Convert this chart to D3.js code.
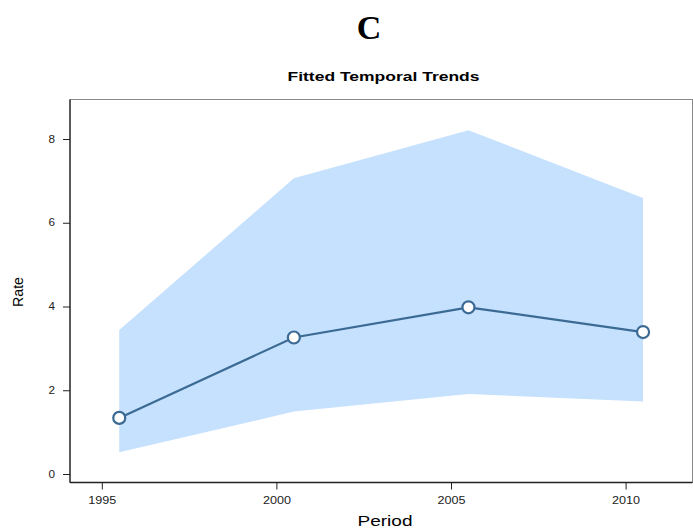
<!DOCTYPE html>
<html>
<head>
<meta charset="utf-8">
<script src="https://cdn.jsdelivr.net/npm/d3@7"></script>
<style>
  html, body { margin: 0; padding: 0; background: #fff; }
  svg { display: block; }
</style>
</head>
<body>
<svg id="chart" width="693" height="528"></svg>
<script>
// Fitted rate by period, with its interval band
const periods = [1995.5, 2000.5, 2005.5, 2010.5];
const rate    = [1.34, 3.26, 3.98, 3.39];
const lower   = [0.52, 1.49, 1.91, 1.73];
const upper   = [3.44, 7.06, 8.21, 6.59];
const xTicks  = [1995, 2000, 2005, 2010];
const yTicks  = [0, 2, 4, 6, 8];

const svg = d3.select("#chart");
const box = { left: 70, right: 692.5, top: 99.5, bottom: 482.5 };
const sans = "Liberation Sans, Arial, Helvetica, sans-serif";

const x = d3.scaleLinear().domain([1995, 2010]).range([101.8, 625.6]);
const y = d3.scaleLinear().domain([0, 8]).range([474, 139]);

const pts = periods.map((p, i) => ({ p, r: rate[i], lo: lower[i], hi: upper[i] }));

// panel letter and title (the text is set wide, as in a stretched figure)
svg.append("text")
  .attr("x", 369).attr("y", 39)
  .attr("text-anchor", "middle")
  .attr("font-family", "Liberation Serif, Times New Roman, serif")
  .attr("font-weight", "bold")
  .attr("font-size", 34)
  .text("C");

svg.append("text")
  .attr("x", 383.5).attr("y", 80.7)
  .attr("text-anchor", "middle")
  .attr("font-family", sans)
  .attr("font-weight", "bold")
  .attr("font-size", 13.5)
  .attr("textLength", 192)
  .attr("lengthAdjust", "spacingAndGlyphs")
  .text("Fitted Temporal Trends");

// interval band
svg.append("path")
  .datum(pts)
  .attr("fill", "#c6e1fd")
  .attr("d", d3.area().x(d => x(d.p)).y0(d => y(d.lo)).y1(d => y(d.hi)));

// plot frame
svg.append("rect")
  .attr("x", box.left).attr("y", box.top)
  .attr("width", box.right - box.left).attr("height", box.bottom - box.top)
  .attr("fill", "none").attr("stroke", "#8a8a8a").attr("stroke-width", 1);

// axes
const xAxis = d3.axisBottom(x).tickValues(xTicks).tickFormat(d3.format("d")).tickSize(7).tickPadding(7);
const yAxis = d3.axisLeft(y).tickValues(yTicks).tickSize(7).tickPadding(8);

const gx = svg.append("g").attr("transform", `translate(0,${box.bottom})`).call(xAxis);
const gy = svg.append("g").attr("transform", `translate(${box.left},0)`).call(yAxis);

[gx, gy].forEach(g => {
  g.select(".domain").remove();
  g.selectAll("line").attr("stroke", "#222");
  g.selectAll("text")
    .attr("font-family", sans)
    .attr("font-size", 10)
    .attr("fill", "#222")
    .attr("lengthAdjust", "spacingAndGlyphs");
});
gx.selectAll("text").attr("textLength", 28);
gy.selectAll("text").attr("textLength", 6.5);

svg.append("line")
  .attr("x1", box.left).attr("x2", box.right)
  .attr("y1", box.bottom).attr("y2", box.bottom)
  .attr("stroke", "#222").attr("stroke-width", 1.3);
svg.append("line")
  .attr("x1", box.left).attr("x2", box.left)
  .attr("y1", box.top).attr("y2", box.bottom)
  .attr("stroke", "#222").attr("stroke-width", 1.3);

// axis titles
svg.append("text")
  .attr("x", 385).attr("y", 526)
  .attr("text-anchor", "middle")
  .attr("font-family", sans)
  .attr("font-size", 15)
  .attr("textLength", 55)
  .attr("lengthAdjust", "spacingAndGlyphs")
  .text("Period");

svg.append("text")
  .attr("transform", "translate(23,292) rotate(-90)")
  .attr("text-anchor", "middle")
  .attr("font-family", sans)
  .attr("font-size", 14)
  .attr("textLength", 30)
  .attr("lengthAdjust", "spacingAndGlyphs")
  .text("Rate");

// fitted line and markers
svg.append("path")
  .datum(pts)
  .attr("fill", "none")
  .attr("stroke", "#3b6a94")
  .attr("stroke-width", 2.2)
  .attr("d", d3.line().x(d => x(d.p)).y(d => y(d.r)));

svg.selectAll("circle.pt")
  .data(pts)
  .join("circle")
  .attr("class", "pt")
  .attr("cx", d => x(d.p)).attr("cy", d => y(d.r))
  .attr("r", 6)
  .attr("fill", "#fff")
  .attr("stroke", "#3b6a94")
  .attr("stroke-width", 2.2);
</script>
</body>
</html>
